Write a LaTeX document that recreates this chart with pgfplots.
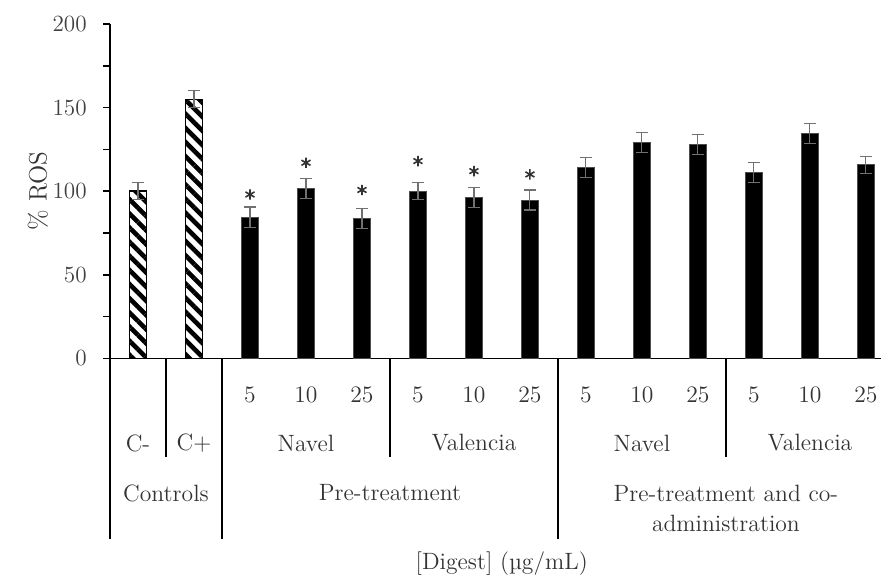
\documentclass[border=0pt]{standalone}
\usepackage{fontspec}
\usepackage{pgfplots}
\pgfplotsset{compat=1.18}
\usetikzlibrary{patterns.meta}
\definecolor{txt}{HTML}{333333}
\definecolor{tck}{HTML}{404040}
\definecolor{errc}{HTML}{707070}
\pgfplotstableread{
x y e
0 100 5
1 155 5
}\controls
\pgfplotstableread{
x y e
2 84.5 6
3 101.5 6
4 83.5 6
5 100 5
6 96.3 6
7 94.7 6
8 114.3 6
9 129.2 6
10 127.8 6
11 111.2 6
12 134.4 6
13 115.8 5
}\treat
\pgfplotstableread{
x y
2 98
3 117
4 100.7
5 118
6 112
7 110
}\stars
\begin{document}
\fontsize{11.8}{14}\selectfont
\begin{tikzpicture}
\begin{axis}[
  at={(55pt,110.35pt)}, anchor=south west,
  scale only axis, width=385.5pt, height=167.15pt,
  xmin=-0.5, xmax=13.27, ymin=0, ymax=200,
  clip=false,
  axis x line=bottom, axis y line=left,
  axis line style={-, line width=0.8pt, black},
  ytick={0,50,...,200}, minor ytick={25,75,...,175},
  tick align=outside, major tick length=3.5pt, minor tick length=3.5pt,
  y tick style={line width=0.8pt, black},
  xtick={0,...,13}, xticklabels={,,5,10,25,5,10,25,5,10,25,5,10,25},
  x tick style={draw=none},
  /pgf/number format/assume math mode=true,
  yticklabel style={text=tck, font=\fontsize{11.6}{14}\selectfont, anchor=east, xshift=-4pt},
  xticklabel style={text=txt, font=\fontsize{11.8}{14}\selectfont, anchor=north, yshift=-6.5pt},
  ylabel={\% ROS},
  ylabel style={at={(axis description cs:-0.0934,0.5)}, anchor=center, text=txt, font=\fontsize{12.6}{14}\selectfont},
  xlabel={[Digest] (\textmu g/mL)},
  xlabel style={at={(axis description cs:0.508,-0.613)}, anchor=center, text=txt, font=\fontsize{11.8}{14}\selectfont},
  error bars/error bar style={errc, line width=0.55pt},
  error bars/error mark options={rotate=90, mark size=3pt, errc, line width=0.55pt},
]
\addplot[ybar, bar width=8.5pt, bar shift=0pt, draw=black, line width=0.7pt, fill=white,
  postaction={pattern={Lines[angle=-45, distance=5pt, line width=2.3pt]}, pattern color=black},
  error bars/.cd, y dir=both, y explicit]
  table[x=x, y=y, y error=e] {\controls};
\addplot[ybar, bar width=8.5pt, bar shift=0pt, draw=black!70, line width=0.4pt, fill=black,
  error bars/.cd, y dir=both, y explicit]
  table[x=x, y=y, y error=e] {\treat};
\addplot[only marks, mark=asterisk, mark size=2.6pt, black!80, line width=0.8pt]
  table[x=x, y=y] {\stars};
% category dividers
\draw[line width=0.8pt] (axis cs:-0.5,0) -- (axis cs:-0.5,-108.1);
\draw[line width=0.8pt] (axis cs:1.5,0) -- (axis cs:1.5,-108.1);
\draw[line width=0.8pt] (axis cs:7.5,0) -- (axis cs:7.5,-108.1);
\draw[line width=0.8pt] (axis cs:0.5,0) -- (axis cs:0.5,-59);
\draw[line width=0.8pt] (axis cs:4.5,0) -- (axis cs:4.5,-59);
\draw[line width=0.8pt] (axis cs:10.5,0) -- (axis cs:10.5,-59);
% group labels
\begin{scope}[every node/.style={text=txt, font=\fontsize{11.8}{14}\selectfont}]
\node at (axis cs:0,-50.7) {C-};
\node at (axis cs:1,-50.7) {C+};
\node at (axis cs:3,-50.7) {Navel};
\node at (axis cs:6,-50.7) {Valencia};
\node at (axis cs:9,-50.7) {Navel};
\node at (axis cs:12,-50.7) {Valencia};
\node at (axis cs:0.5,-80.6) {Controls};
\node at (axis cs:4.5,-80.6) {Pre-treatment};
\node[align=center, inner sep=0pt] at (axis cs:10.5,-89.6) {Pre-treatment and co-\\[1pt]administration};
\end{scope}
\end{axis}
\pgfresetboundingbox
\path[use as bounding box] (0,0) rectangle (440.5pt,289.5pt);
\end{tikzpicture}
\end{document}
